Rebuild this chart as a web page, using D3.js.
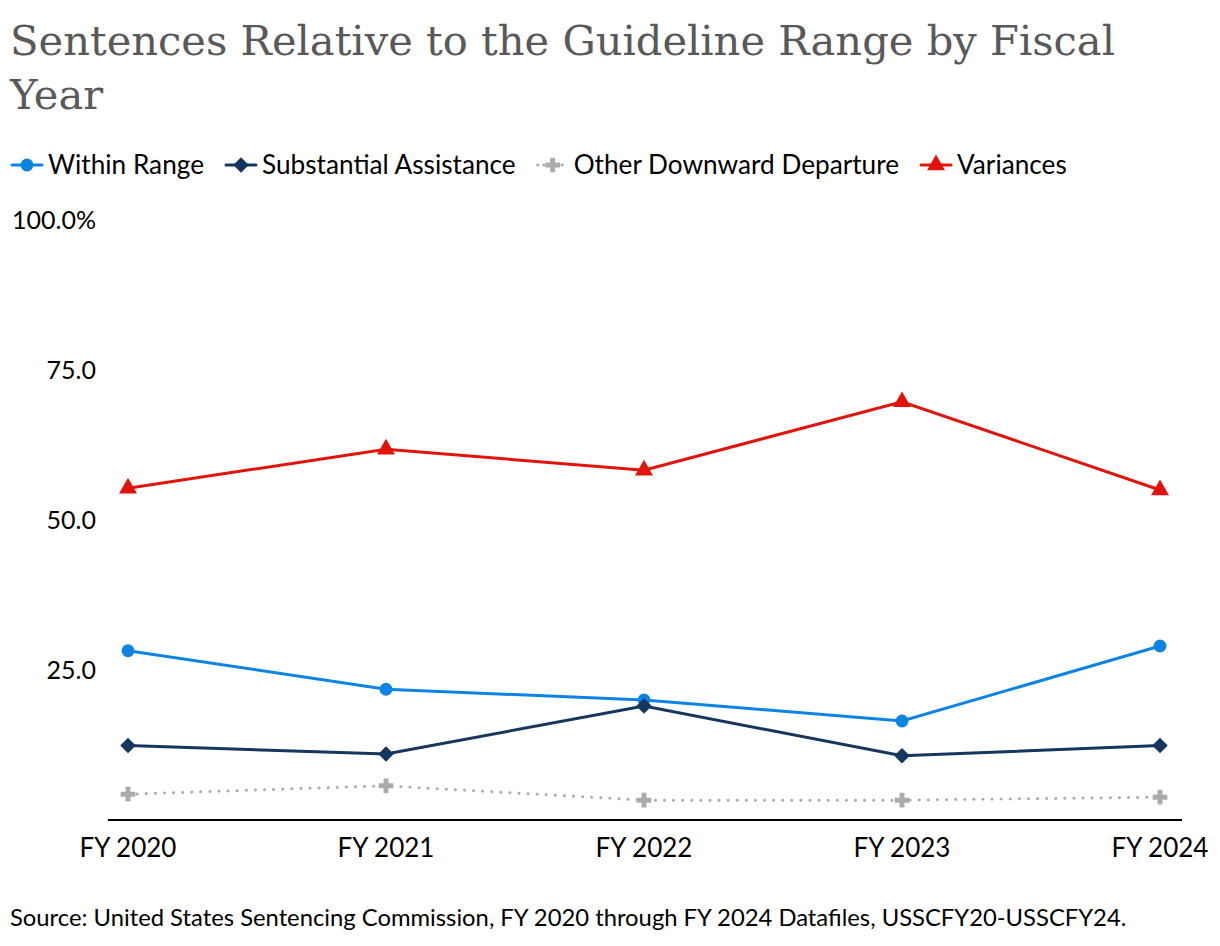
<!DOCTYPE html>
<html>
<head>
<meta charset="utf-8">
<script src="https://cdn.jsdelivr.net/npm/d3@7"></script>
<style>
  body { margin: 0; background: #fff; }
  svg { display: block; }
</style>
</head>
<body>
<div id="chart"></div>
<script>
// --- data ---
const years = ["FY 2020", "FY 2021", "FY 2022", "FY 2023", "FY 2024"];
const withinRange = [28.2, 21.8, 20.0, 16.5, 29.0];
const substantialAssistance = [12.4, 11.0, 19.0, 10.7, 12.4];
const otherDownward = [4.3, 5.7, 3.3, 3.3, 3.8];
const variances = [55.3, 61.8, 58.3, 69.7, 55.0];
const yTicks = [25, 50, 75, 100];

const series = [
  { name: "Within Range", values: withinRange, color: "#0d84e4", symbol: d3.symbolCircle, size: 130, rotate: 0, dotted: false },
  { name: "Substantial Assistance", values: substantialAssistance, color: "#15365f", symbol: d3.symbolSquare, size: 120, rotate: 45, dotted: false },
  { name: "Other Downward Departure", values: otherDownward, color: "#ababab", symbol: d3.symbolCross, size: 120, rotate: 0, dotted: true },
  { name: "Variances", values: variances, color: "#e1140b", symbol: d3.symbolTriangle, size: 140, rotate: 0, dotted: false }
];

const width = 1220, height = 946;
const svg = d3.select("#chart").append("svg")
  .attr("width", width)
  .attr("height", height);

// --- title ---
const titleLines = ["Sentences Relative to the Guideline Range by Fiscal", "Year"];
const title = svg.append("g");
title.selectAll("text")
  .data(titleLines)
  .join("text")
  .attr("x", 10)
  .attr("y", (d, i) => 55 + i * 54)
  .attr("font-family", "'DejaVu Serif', 'Liberation Serif', serif")
  .attr("font-size", 44)
  .attr("fill", "#595959")
  .text(d => d);
// fit first line to the reference width
const firstLine = title.select("text").node();
const fitSize = 44 * 1105 / firstLine.getComputedTextLength();
title.selectAll("text").attr("font-size", Math.min(44, fitSize));

// --- scales ---
const x = d3.scalePoint().domain(years).range([128, 1160]);
const y = d3.scaleLinear().domain([0, 100]).range([820, 220]);

// --- axes ---
svg.append("line")
  .attr("x1", 108).attr("x2", 1182)
  .attr("y1", y(0)).attr("y2", y(0))
  .attr("stroke", "#000")
  .attr("stroke-width", 2);

svg.append("g")
  .selectAll("text")
  .data(yTicks)
  .join("text")
  .attr("x", 96)
  .attr("y", d => y(d))
  .attr("dy", "0.36em")
  .attr("text-anchor", "end")
  .attr("font-family", "Lato, sans-serif")
  .attr("font-size", 25)
  .attr("fill", "#000")
  .text(d => d === 100 ? "100.0%" : d.toFixed(1));

svg.append("g")
  .selectAll("text")
  .data(years)
  .join("text")
  .attr("x", d => x(d))
  .attr("y", 857)
  .attr("text-anchor", "middle")
  .attr("font-family", "Lato, sans-serif")
  .attr("font-size", 26)
  .attr("fill", "#000")
  .text(d => d);

// --- lines & markers ---
const line = d3.line()
  .x((d, i) => x(years[i]))
  .y(d => y(d));

series.forEach(s => {
  svg.append("path")
    .datum(s.values)
    .attr("fill", "none")
    .attr("stroke", s.color)
    .attr("stroke-width", 3)
    .attr("stroke-linecap", "round")
    .attr("stroke-dasharray", s.dotted ? "0.1,9" : null)
    .attr("d", line);

  svg.append("g")
    .selectAll("path")
    .data(s.values)
    .join("path")
    .attr("transform", (d, i) => `translate(${x(years[i])},${y(d)}) rotate(${s.rotate})`)
    .attr("d", d3.symbol().type(s.symbol).size(s.size))
    .attr("fill", s.color);
});

// --- legend ---
const legend = svg.append("g").attr("transform", "translate(12,165)");
let lx = 0;
series.forEach(s => {
  const item = legend.append("g").attr("transform", `translate(${lx},0)`);
  item.append("line")
    .attr("x1", 0).attr("x2", 30)
    .attr("stroke", s.color)
    .attr("stroke-width", 3)
    .attr("stroke-linecap", "round")
    .attr("stroke-dasharray", s.dotted ? "0.1,6" : null);
  item.append("path")
    .attr("transform", `translate(15,0) rotate(${s.rotate})`)
    .attr("d", d3.symbol().type(s.symbol).size(s.size))
    .attr("fill", s.color);
  const t = item.append("text")
    .attr("x", 36)
    .attr("dy", "0.36em")
    .attr("font-family", "Lato, sans-serif")
    .attr("font-size", 26.2)
    .attr("fill", "#000")
    .text(s.name);
  lx += 36 + t.node().getComputedTextLength() + 22;
});

// --- source ---
svg.append("text")
  .attr("x", 10)
  .attr("y", 926)
  .attr("font-family", "Lato, sans-serif")
  .attr("font-size", 23.8)
  .attr("fill", "#000")
  .text("Source: United States Sentencing Commission, FY 2020 through FY 2024 Datafiles, USSCFY20-USSCFY24.");
</script>
</body>
</html>
